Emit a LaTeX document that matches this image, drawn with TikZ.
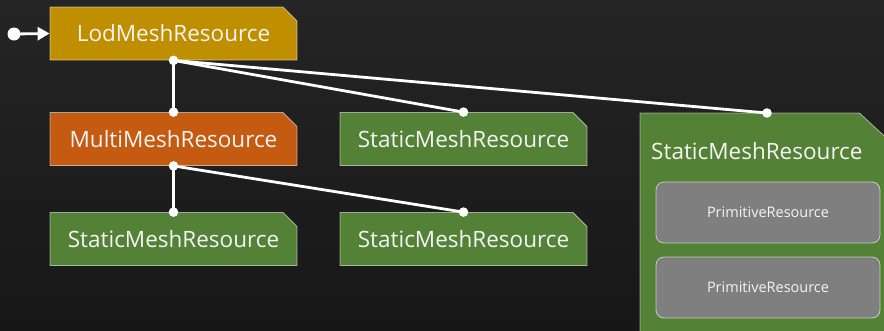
\documentclass[tikz,border=0pt]{standalone}
\usepackage{fontspec}
\setmainfont{Open Sans}
\usetikzlibrary{shapes.misc,arrows.meta}
\definecolor{bgtop}{HTML}{252525}
\definecolor{bgbot}{HTML}{171717}
\definecolor{lodgold}{HTML}{BF8F00}
\definecolor{multiorange}{HTML}{C55A11}
\definecolor{staticgreen}{HTML}{538135}
\definecolor{primgray}{HTML}{7F7F7F}
\definecolor{edgewhite}{HTML}{F4F4F4}
\tikzset{
  boxedge/.style={draw=white, draw opacity=0.55, line width=0.8pt},
  resbox/.style={chamfered rectangle, chamfered rectangle corners=north east,
    chamfered rectangle xsep=7pt, chamfered rectangle ysep=7pt,
    minimum width=247pt, minimum height=53pt, inner sep=0pt, boxedge,
    text=edgewhite, font=\fontsize{22.5}{25}\selectfont},
  lodbox/.style={resbox, fill=lodgold},
  multibox/.style={resbox, fill=multiorange},
  staticbox/.style={resbox, fill=staticgreen},
  primbox/.style={rounded corners=8pt, fill=primgray, draw=white, draw opacity=0.6,
    line width=0.8pt, minimum width=224pt, minimum height=61pt, inner sep=0pt,
    text=edgewhite, font=\fontsize{14.5}{16}\selectfont},
  conn/.style={draw=white, line width=2.8pt},
  dot/.style={fill=white},
}
\begin{document}
\begin{tikzpicture}[x=1pt,y=-1pt]
  % page and background
  \useasboundingbox (0,0) rectangle (884,330);
  \shade[top color=bgtop, bottom color=bgbot] (0,0) rectangle (884,330);

  % nodes (positions in px, y downward)
  \node[lodbox] (lod) at (173.5,33.5) {LodMeshResource};
  \node[multibox] (multi) at (173.5,139) {MultiMeshResource};
  \node[staticbox] (sm1) at (463.5,139) {StaticMeshResource};
  \node[staticbox] (sm2) at (173.5,239) {StaticMeshResource};
  \node[staticbox] (sm3) at (463.5,239) {StaticMeshResource};

  % large static mesh resource (large cut corner), with its primitives
  \node[minimum width=246pt, minimum height=240pt, inner sep=0pt, anchor=north west]
        (big) at (640,113) {};
  \filldraw[fill=staticgreen, boxedge]
    (big.north west) -- ([xshift=-27pt]big.north east)
    -- ([yshift=-25pt]big.north east) -- (big.south east)
    -- (big.south west) -- cycle;
  \node[anchor=west, inner sep=0pt, text=edgewhite, font=\fontsize{22.5}{25}\selectfont]
        (bigtitle) at (651,151) {StaticMeshResource};
  \node[primbox] (prim1) at (768,212.5) {PrimitiveResource};
  \node[primbox] (prim2) at (768,287.5) {PrimitiveResource};

  % entry arrow
  \coordinate (entry) at (14,34);
  \draw[conn, line width=2.8pt, -{Triangle[length=12pt,width=13pt]}] (entry) -- (lod.west);
  \fill[dot] (entry) circle (6.5pt);

  % hierarchy connectors
  \coordinate (bigtop) at (767,113);
  \draw[conn] (lod.south) -- (multi.north);
  \draw[conn] (lod.south) -- (sm1.north);
  \draw[conn] (lod.south) -- (bigtop);
  \draw[conn] (multi.south) -- (sm2.north);
  \draw[conn] (multi.south) -- (sm3.north);
  \foreach \p in {lod.south, multi.north, sm1.north, bigtop, multi.south, sm2.north, sm3.north}
    \fill[dot] (\p) circle (4.8pt);
\end{tikzpicture}
\end{document}
